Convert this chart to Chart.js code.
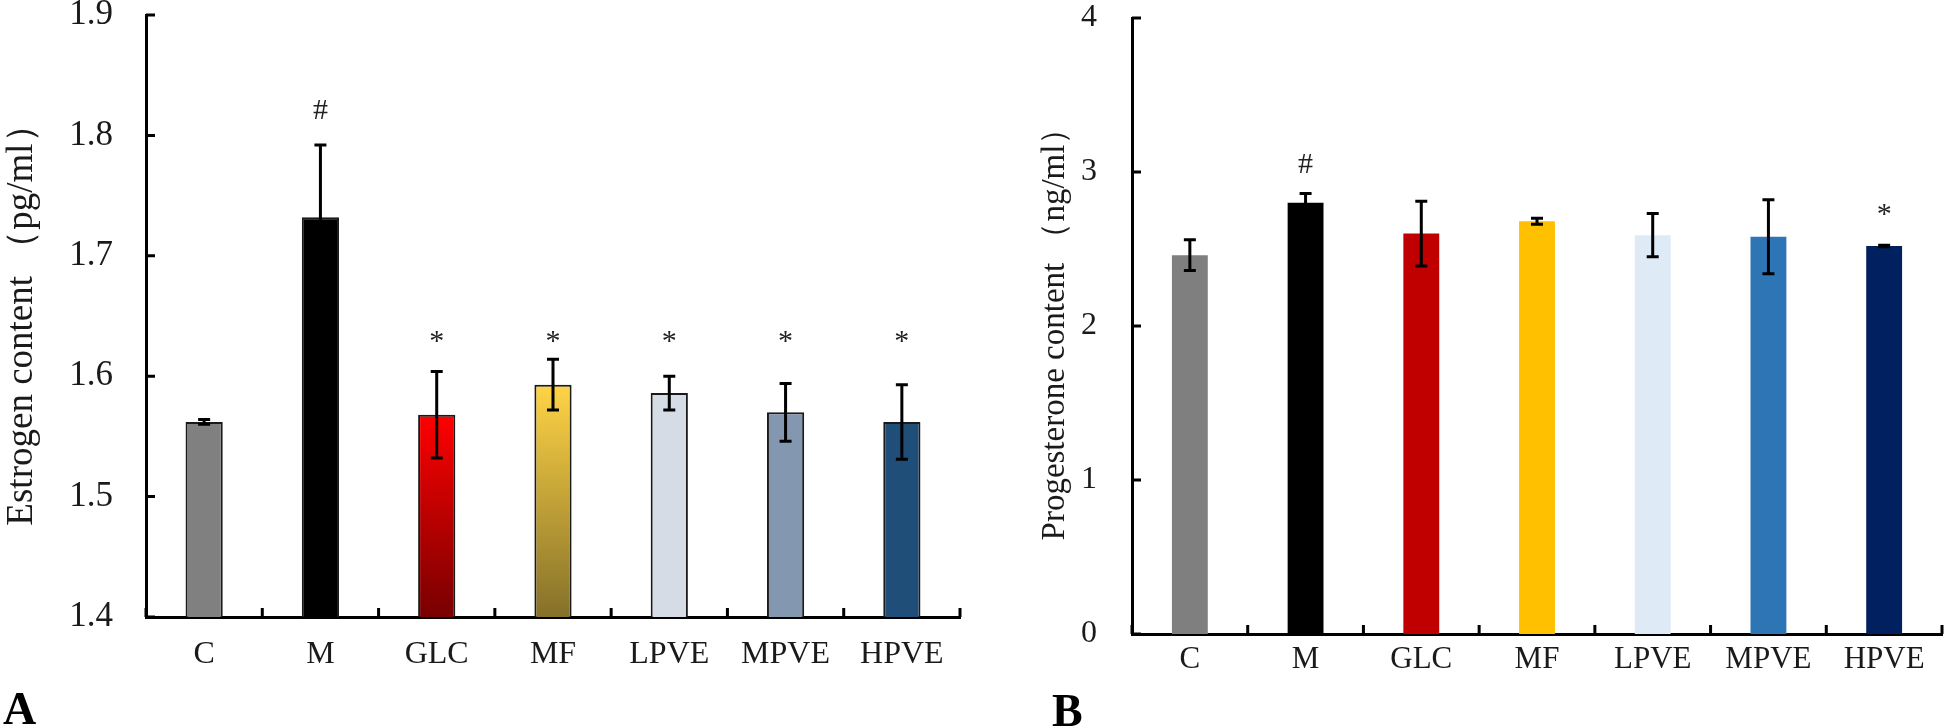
<!DOCTYPE html>
<html>
<head>
<meta charset="utf-8">
<script src="https://cdn.jsdelivr.net/npm/chart.js@4.4.1/dist/chart.umd.min.js"></script>
<style>
  body { margin: 0; background: #fff; width: 1946px; height: 726px; position: relative; overflow: hidden; }
  canvas { position: absolute; top: 0; }
  #chartA { left: 0; }
  #chartB { left: 990px; }
  .panel { position: absolute; font-family: "Liberation Serif", serif; font-weight: bold; font-size: 46px; color: #000; line-height: 1; }
</style>
</head>
<body>
<canvas id="chartA" width="980" height="726"></canvas>
<canvas id="chartB" width="956" height="726"></canvas>
<div class="panel" style="left:3px; top:686px;">A</div>
<div class="panel" style="left:1052px; top:688px;">B</div>
<script>
// Data
const categories = ['C', 'M', 'GLC', 'MF', 'LPVE', 'MPVE', 'HPVE'];

const estrogenValues = [1.562, 1.732, 1.568, 1.593, 1.586, 1.570, 1.562];
const estrogenErrors = [0.002, 0.060, 0.036, 0.021, 0.014, 0.024, 0.031];
const estrogenMarks = ['', '#', '*', '*', '*', '*', '*'];
const estrogenTicks = [1.4, 1.5, 1.6, 1.7, 1.8, 1.9];

const progesteroneValues = [2.46, 2.80, 2.60, 2.68, 2.59, 2.58, 2.52];
const progesteroneErrors = [0.10, 0.06, 0.21, 0.02, 0.14, 0.24, 0.005];
const progesteroneMarks = ['', '#', '', '', '', '', '*'];
const progesteroneTicks = [0, 1, 2, 3, 4];

// Colours (two-stop entries are vertical gradients)
const estrogenFills = ['#808080', '#000000', ['#ff0000', '#780000'], ['#ffd445', '#85702a'], '#d6dce5', '#8497b0', '#1f4e79'];
const progesteroneFills = ['#7f7f7f', '#000000', '#c00000', '#ffc000', '#deebf7', '#2e75b6', '#002060'];

const SERIF = '"Liberation Serif", "Times New Roman", serif';
const INK = '#1a1a1a';

// Error bars drawn from the y scale
const errorBars = {
    id: 'errorBars',
    afterDatasetsDraw(chart, args, opts) {
        const {ctx, scales: {y}} = chart;
        const meta = chart.getDatasetMeta(0);
        const values = chart.data.datasets[0].data;
        ctx.save();
        ctx.strokeStyle = '#000';
        ctx.lineWidth = opts.width;
        meta.data.forEach((bar, i) => {
            const top = y.getPixelForValue(values[i] + opts.errors[i]);
            const bottom = y.getPixelForValue(values[i] - opts.errors[i]);
            ctx.beginPath();
            ctx.moveTo(bar.x, top);
            ctx.lineTo(bar.x, bottom);
            ctx.moveTo(bar.x - opts.cap, top);
            ctx.lineTo(bar.x + opts.cap, top);
            ctx.moveTo(bar.x - opts.cap, bottom);
            ctx.lineTo(bar.x + opts.cap, bottom);
            ctx.stroke();
        });
        ctx.restore();
    }
};

// Significance marks (# and *) above the error bars
const sigMarks = {
    id: 'sigMarks',
    afterDatasetsDraw(chart, args, opts) {
        const {ctx, scales: {y}} = chart;
        const meta = chart.getDatasetMeta(0);
        const values = chart.data.datasets[0].data;
        const errors = chart.options.plugins.errorBars.errors;
        const tops = values.map((v, i) => y.getPixelForValue(v + errors[i]));
        // common level per symbol when aligned
        const level = {};
        opts.marks.forEach((m, i) => {
            if (!m) return;
            level[m] = Math.min(level[m] ?? Infinity, tops[i]);
        });
        ctx.save();
        ctx.font = `30px ${SERIF}`;
        ctx.fillStyle = '#222';
        ctx.textAlign = 'center';
        ctx.textBaseline = 'alphabetic';
        opts.marks.forEach((m, i) => {
            if (!m) return;
            const base = opts.align ? level[m] : tops[i];
            ctx.fillText(m, meta.data[i].x, base - opts.gap[m]);
        });
        ctx.restore();
    }
};

// Inward tick marks on both axes
const innerTicks = {
    id: 'innerTicks',
    afterDraw(chart, args, opts) {
        const {ctx, chartArea: a, scales: {x, y}} = chart;
        ctx.save();
        ctx.strokeStyle = '#000';
        ctx.lineWidth = opts.width;
        ctx.beginPath();
        y.ticks.forEach(t => {
            const py = y.getPixelForValue(t.value);
            ctx.moveTo(a.left, py);
            ctx.lineTo(a.left + opts.length, py);
        });
        for (let i = 0; i <= x.ticks.length; i++) {
            const px = x.getPixelForValue(i - 0.5);
            ctx.moveTo(px, a.bottom);
            ctx.lineTo(px, a.bottom - opts.length);
        }
        ctx.stroke();
        ctx.restore();
    }
};

const fillFor = fills => ctx => {
    const c = fills[ctx.dataIndex];
    if (typeof c === 'string') return c;
    const area = ctx.chart.chartArea;
    if (!area) return c[0];
    const top = ctx.chart.scales.y.getPixelForValue(ctx.raw);
    const g = ctx.chart.ctx.createLinearGradient(0, top, 0, area.bottom);
    g.addColorStop(0, c[0]);
    g.addColorStop(1, c[1]);
    return g;
};

const makeChart = (id, cfg) => new Chart(document.getElementById(id), {
    type: 'bar',
    data: {
        labels: categories,
        datasets: [{
            data: cfg.values,
            backgroundColor: fillFor(cfg.fills),
            borderColor: cfg.border,
            borderWidth: cfg.borderWidth,
            borderSkipped: 'bottom',
            barPercentage: cfg.barPct,
            categoryPercentage: 1
        }]
    },
    options: {
        responsive: false,
        animation: false,
        devicePixelRatio: 1,
        layout: { padding: cfg.padding },
        plugins: {
            legend: { display: false },
            tooltip: { enabled: false },
            errorBars: { errors: cfg.errors, width: 3, cap: 6 },
            sigMarks: { marks: cfg.marks, gap: cfg.gap, align: cfg.align },
            innerTicks: { length: 9, width: 3 }
        },
        scales: {
            x: {
                grid: { display: false, drawTicks: false },
                border: { display: true, color: '#000', width: 3 },
                ticks: { color: INK, font: { family: SERIF, size: cfg.xFont }, padding: cfg.xPad, autoSkip: false, maxRotation: 0 },
                afterFit: s => { s.height = cfg.xHeight; s.paddingLeft = 0; s.paddingRight = 0; }
            },
            y: {
                min: cfg.ticks[0],
                max: cfg.ticks[cfg.ticks.length - 1],
                afterBuildTicks: s => { s.ticks = cfg.ticks.map(v => ({ value: v })); },
                grid: { display: false, drawTicks: false },
                border: { display: true, color: '#000', width: 3 },
                ticks: { color: INK, font: { family: SERIF, size: cfg.yFont }, padding: cfg.yPad, callback: v => v.toFixed(cfg.digits) },
                title: { display: true, text: cfg.title, color: INK, font: { family: SERIF, size: cfg.titleFont }, padding: { top: cfg.titlePad, bottom: 0 } },
                afterFit: s => { s.width = cfg.yWidth; s.paddingTop = 0; s.paddingBottom = 0; }
            }
        }
    },
    plugins: [errorBars, sigMarks, innerTicks]
});

makeChart('chartA', {
    values: estrogenValues, errors: estrogenErrors, marks: estrogenMarks, ticks: estrogenTicks,
    fills: estrogenFills, border: '#1a1a1a', borderWidth: 2, barPct: 0.32,
    padding: { top: 15, right: 20, bottom: 0, left: 0 },
    xHeight: 109, yWidth: 146, xFont: 32, yFont: 35, xPad: 18, yPad: 33, digits: 1,
    title: 'Estrogen content （pg/ml）', titleFont: 37, titlePad: 0,
    gap: { '#': 26, '*': 9 }, align: true
});

makeChart('chartB', {
    values: progesteroneValues, errors: progesteroneErrors, marks: progesteroneMarks, ticks: progesteroneTicks,
    fills: progesteroneFills, border: 'rgba(0,0,0,0)', borderWidth: 0, barPct: 0.31,
    padding: { top: 18, right: 4, bottom: 0, left: 0 },
    xHeight: 92, yWidth: 142, xFont: 31, yFont: 32, xPad: 7, yPad: 35, digits: 0,
    title: 'Progesterone content （ng/ml）', titleFont: 33, titlePad: 46,
    gap: { '#': 21, '*': 22 }, align: false
});
</script>
</body>
</html>
